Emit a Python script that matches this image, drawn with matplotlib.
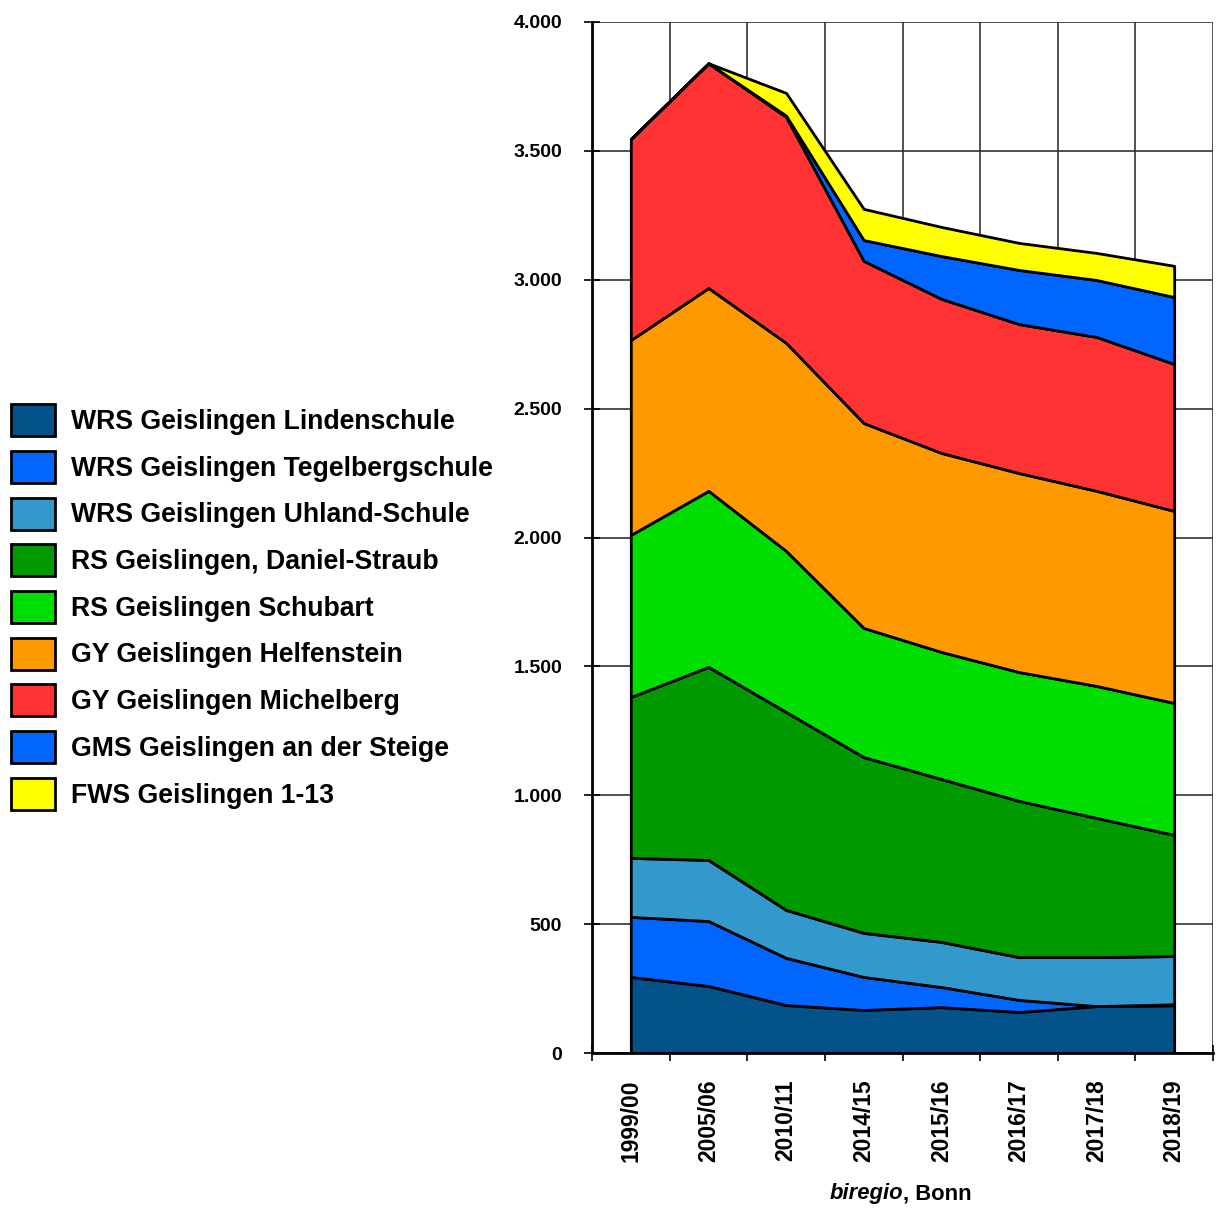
import matplotlib
matplotlib.use('Agg')
import matplotlib.pyplot as plt
from matplotlib.patches import Patch
from matplotlib.ticker import FuncFormatter, MultipleLocator, FixedLocator

plt.rcParams['font.family'] = ['Liberation Sans', 'DejaVu Sans']
plt.rcParams['font.weight'] = 'bold'

# ==================== ДАННЫЕ ====================
jahre = ['1999/00', '2005/06', '2010/11', '2014/15', '2015/16', '2016/17', '2017/18', '2018/19']

schulen = ['WRS Geislingen Lindenschule', 'WRS Geislingen Tegelbergschule',
           'WRS Geislingen Uhland-Schule', 'RS Geislingen, Daniel-Straub',
           'RS Geislingen Schubart', 'GY Geislingen Helfenstein',
           'GY Geislingen Michelberg', 'GMS Geislingen an der Steige',
           'FWS Geislingen 1-13']

lindenschule = [295, 260, 186, 167, 178, 159, 182, 185]
tegelberg = [233, 252, 183, 128, 78, 47, 0, 4]
uhland = [229, 237, 186, 171, 175, 166, 190, 187]
daniel_straub = [624, 749, 768, 682, 632, 606, 540, 470]
schubart = [629, 683, 625, 501, 493, 500, 512, 512]
helfenstein = [756, 787, 807, 795, 772, 772, 757, 745]
michelberg = [780, 872, 877, 629, 598, 578, 597, 570]
gms = [0, 0, 5, 81, 166, 210, 221, 260]
fws = [0, 0, 88, 121, 113, 105, 105, 121]

farben = ['#04528A', '#0066FF', '#3399CC', '#009900', '#00DD00',
          '#FF9900', '#FF3333', '#0066FF', '#FFFF00']

# ==================== ГРАФИК ====================
fig = plt.figure(figsize=(12.16, 12.15), dpi=100)
ax = fig.add_axes([592 / 1216, 1 - 1053 / 1215, 621 / 1216, 1031 / 1215])

x = list(range(len(jahre)))
ax.stackplot(x, lindenschule, tegelberg, uhland, daniel_straub, schubart,
             helfenstein, michelberg, gms, fws,
             colors=farben, edgecolor='black', linewidth=2.0, zorder=3)

ax.set_xlim(-0.5, len(jahre) - 0.5)
ax.set_ylim(0, 4000)

ax.yaxis.set_major_locator(MultipleLocator(500))
ax.yaxis.set_major_formatter(FuncFormatter(lambda v, p: f'{int(v):,}'.replace(',', '.')))
ax.grid(axis='y', color='#333333', linewidth=1.2, zorder=1)

ax.set_xticks(x)
ax.set_xticklabels(jahre, rotation=90, fontsize=16.5, fontweight='bold')
ax.xaxis.set_minor_locator(FixedLocator([i - 0.5 for i in range(len(jahre) + 1)]))
ax.grid(axis='x', which='minor', color='#333333', linewidth=1.2, zorder=1)
ax.tick_params(axis='x', which='major', length=0, pad=19)
ax.tick_params(axis='x', which='minor', direction='inout', length=12, width=1.2)
ax.tick_params(axis='y', direction='inout', length=12, width=1.2, labelsize=14, pad=15.5)
for lbl in ax.get_yticklabels():
    lbl.set_fontweight('bold')

for s in ['top', 'right']:
    ax.spines[s].set_visible(False)
ax.spines['left'].set_linewidth(2)
ax.spines['bottom'].set_linewidth(2)
ax.spines['left'].set_zorder(4)
ax.spines['bottom'].set_zorder(4)

# Quelle
fig.text(903 / 1216, 1 - 1194 / 1215, 'biregio', ha='right', va='center',
         fontsize=15.8, fontweight='bold', fontstyle='italic')
fig.text(903 / 1216, 1 - 1194 / 1215, ', Bonn', ha='left', va='center',
         fontsize=15.8, fontweight='bold')

handles = [Patch(facecolor=c, edgecolor='black', linewidth=2) for c in farben]
fig.legend(handles, schulen, loc='center left', bbox_to_anchor=(0.0, 1 - 607 / 1215),
           frameon=False, handlelength=1.65, handleheight=1.47,
           handletextpad=0.6, labelspacing=0.55, borderaxespad=0.01,
           prop={'weight': 'bold', 'size': 19.2})

plt.savefig('out.png', dpi=100)
plt.close()
